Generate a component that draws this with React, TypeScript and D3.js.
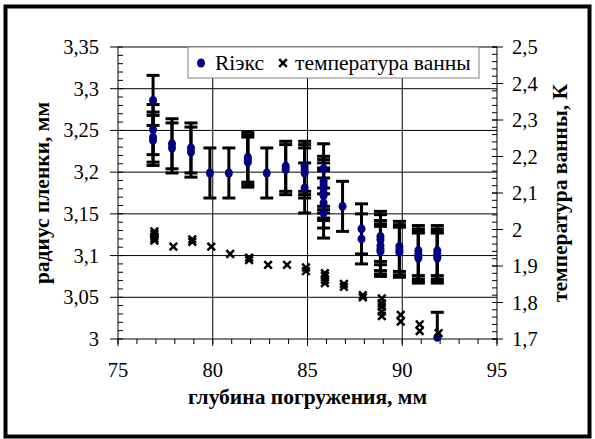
import React from "react";
import * as d3 from "d3";

// ---- data ----
const radiusDepth = [
  76.85, 76.85, 76.85, 76.85,
  77.85, 77.85,
  78.85, 78.85,
  79.85,
  80.85,
  81.85, 81.85, 81.85,
  82.85,
  83.85, 83.85,
  84.85, 84.85, 84.85, 84.85,
  85.85, 85.85, 85.85, 85.85, 85.85, 85.85, 85.85, 85.85,
  86.85,
  87.85, 87.85,
  88.85, 88.85, 88.85, 88.85, 88.85,
  89.85, 89.85, 89.85,
  90.85, 90.85, 90.85, 90.85,
  91.85, 91.85, 91.85, 91.85, 91.85,
];
const radiusValue = [
  3.286, 3.251, 3.242, 3.238,
  3.234, 3.229,
  3.229, 3.224,
  3.199,
  3.199,
  3.218, 3.215, 3.212,
  3.199,
  3.207, 3.203,
  3.207, 3.203, 3.199, 3.181,
  3.204, 3.189, 3.185, 3.181, 3.175, 3.172, 3.163, 3.151,
  3.159,
  3.132, 3.12,
  3.123, 3.119, 3.112, 3.108, 3.105,
  3.111, 3.107, 3.104,
  3.106, 3.102, 3.099, 3.097,
  3.106, 3.102, 3.099, 3.097, 3.002,
];
const radiusError = 0.03;

const tempDepth = [
  76.92, 76.92, 76.92, 76.92, 76.92,
  77.92,
  78.92, 78.92,
  79.92,
  80.92,
  81.92, 81.92,
  82.92,
  83.92,
  84.92, 84.92,
  85.92, 85.92, 85.92, 85.92,
  86.92, 86.92,
  87.92, 87.92,
  88.92, 88.92, 88.92, 88.92, 88.92,
  89.92, 89.92,
  90.92, 90.92,
  91.92,
];
const tempValue = [
  1.995, 1.988, 1.981, 1.975, 1.97,
  1.953,
  1.973, 1.966,
  1.953,
  1.933,
  1.923, 1.916,
  1.903,
  1.903,
  1.896, 1.886,
  1.88, 1.873, 1.862, 1.853,
  1.851, 1.843,
  1.82, 1.814,
  1.811, 1.798, 1.788, 1.775, 1.763,
  1.766, 1.748,
  1.74, 1.722,
  1.716,
];

const xTicks = [75, 80, 85, 90, 95];
const leftTicks = [3, 3.05, 3.1, 3.15, 3.2, 3.25, 3.3, 3.35];
const rightTicks = [1.7, 1.8, 1.9, 2, 2.1, 2.2, 2.3, 2.4, 2.5];
const xTitle = "глубина погружения, мм";
const leftTitle = "радиус пленки, мм";
const rightTitle = "температура ванны, К";
const seriesNames = ["Rіэкс", "температура ванны"];

const fmt = (v: number) => String(v).replace(".", ",");

export default function App() {
  const W = 595, H = 439;
  const L = 118, R = 497, T = 47, B = 339;
  const x = d3.scaleLinear().domain([75, 95]).range([L, R]);
  const yL = d3.scaleLinear().domain([3, 3.35]).range([B, T]);
  const yR = d3.scaleLinear().domain([1.7, 2.5]).range([B, T]);
  const font = "Liberation Serif";
  const xMinor = d3.range(75, 95.001, 1);
  const lMinor = d3.range(3, 3.3501, 0.01);
  const rMinor = d3.range(1.7, 2.5001, 0.02);
  const tickFs = 20.5;
  const titleFs = 21.5;
  const cross = (cx: number, cy: number, s: number) =>
    `M${cx - s},${cy - s}L${cx + s},${cy + s}M${cx - s},${cy + s}L${cx + s},${cy - s}`;

  return (
    <svg width={W} height={H} style={{ position: "absolute", left: 0, top: 0, background: "#fff", fontFamily: font }}>
      <rect x={0} y={0} width={W} height={H} fill="#fff" />
      <rect x={5.5} y={6.5} width={584} height={430} fill="none" stroke="#000" strokeWidth={4} />
      <defs>
        <clipPath id="plotclip">
          <rect x={L} y={T} width={R - L} height={B - T} />
        </clipPath>
      </defs>
      {leftTicks.slice(1).map((t) => (
        <line key={"hg" + t} x1={L} x2={R} y1={yL(t)} y2={yL(t)} stroke="#000" strokeWidth={1} />
      ))}
      {xTicks.slice(1, -1).map((t) => (
        <line key={"vg" + t} x1={x(t)} x2={x(t)} y1={T} y2={B} stroke="#000" strokeWidth={1} />
      ))}
      <line x1={L} x2={L} y1={T} y2={B} stroke="#000" />
      <line x1={R} x2={R} y1={T} y2={B} stroke="#000" />
      <line x1={L} x2={R} y1={B} y2={B} stroke="#000" />
      {xMinor.map((t) => (
        <line key={"xm" + t} x1={x(t)} x2={x(t)} y1={B} y2={B + 5} stroke="#000" />
      ))}
      {xTicks.map((t) => (
        <line key={"xM" + t} x1={x(t)} x2={x(t)} y1={B} y2={B + 7} stroke="#000" />
      ))}
      {xTicks.map((t) => (
        <text key={"xl" + t} x={x(t)} y={B + 38} fontSize={tickFs} textAnchor="middle">{t}</text>
      ))}
      {lMinor.map((t, i) => (
        <line key={"lm" + i} x1={L} x2={L + 5} y1={yL(t)} y2={yL(t)} stroke="#000" />
      ))}
      {leftTicks.map((t) => (
        <line key={"lM" + t} x1={L - 8} x2={L} y1={yL(t)} y2={yL(t)} stroke="#000" />
      ))}
      {leftTicks.map((t) => (
        <text key={"ll" + t} x={99} y={yL(t) + 7} fontSize={tickFs} textAnchor="end">{fmt(t)}</text>
      ))}
      {rMinor.map((t, i) => (
        <line key={"rm" + i} x1={R - 5} x2={R} y1={yR(t)} y2={yR(t)} stroke="#000" />
      ))}
      {rightTicks.map((t) => (
        <line key={"rM" + t} x1={R - 5} x2={R + 6} y1={yR(t)} y2={yR(t)} stroke="#000" />
      ))}
      {rightTicks.map((t) => (
        <text key={"rl" + t} x={512} y={yR(t) + 7} fontSize={tickFs} textAnchor="start">{fmt(t)}</text>
      ))}
      <g clipPath="url(#plotclip)" stroke="#000" strokeWidth={3}>
        {radiusValue.map((v, i) => {
          const cx = x(radiusDepth[i]);
          const y1 = yL(v + radiusError), y2 = yL(v - radiusError);
          return (
            <g key={"eb" + i}>
              <line x1={cx} x2={cx} y1={y1} y2={y2} />
              <line x1={cx - 6.5} x2={cx + 6.5} y1={y1} y2={y1} />
              <line x1={cx - 6.5} x2={cx + 6.5} y1={y2} y2={y2} />
            </g>
          );
        })}
      </g>
      {radiusValue.map((v, i) => (
        <ellipse key={"rp" + i} cx={x(radiusDepth[i])} cy={yL(v)} rx={4} ry={4.5} fill="#000080" />
      ))}
      {tempValue.map((v, i) => (
        <path key={"tp" + i} d={cross(x(tempDepth[i]), yR(v), 3.8)} stroke="#000" strokeWidth={2.5} fill="none" />
      ))}
      <rect x={188} y={T} width={291} height={31} fill="#fff" stroke="#808080" strokeWidth={1} />
      <ellipse cx={201} cy={63} rx={4} ry={4.5} fill="#000080" />
      <text x={215} y={70} fontSize={titleFs}>{seriesNames[0]}</text>
      <path d={cross(283, 63, 3.8)} stroke="#000" strokeWidth={2.5} fill="none" />
      <text x={295} y={70} fontSize={titleFs}>{seriesNames[1]}</text>
      <text x={(L + R) / 2} y={404} fontSize={titleFs} fontWeight="bold" textAnchor="middle">{xTitle}</text>
      <text transform={`translate(49,${(T + B) / 2}) rotate(-90)`} fontSize={titleFs} fontWeight="bold" textAnchor="middle">{leftTitle}</text>
      <text transform={`translate(567,${(T + B) / 2}) rotate(-90)`} fontSize={titleFs} fontWeight="bold" textAnchor="middle">{rightTitle}</text>
    </svg>
  );
}
